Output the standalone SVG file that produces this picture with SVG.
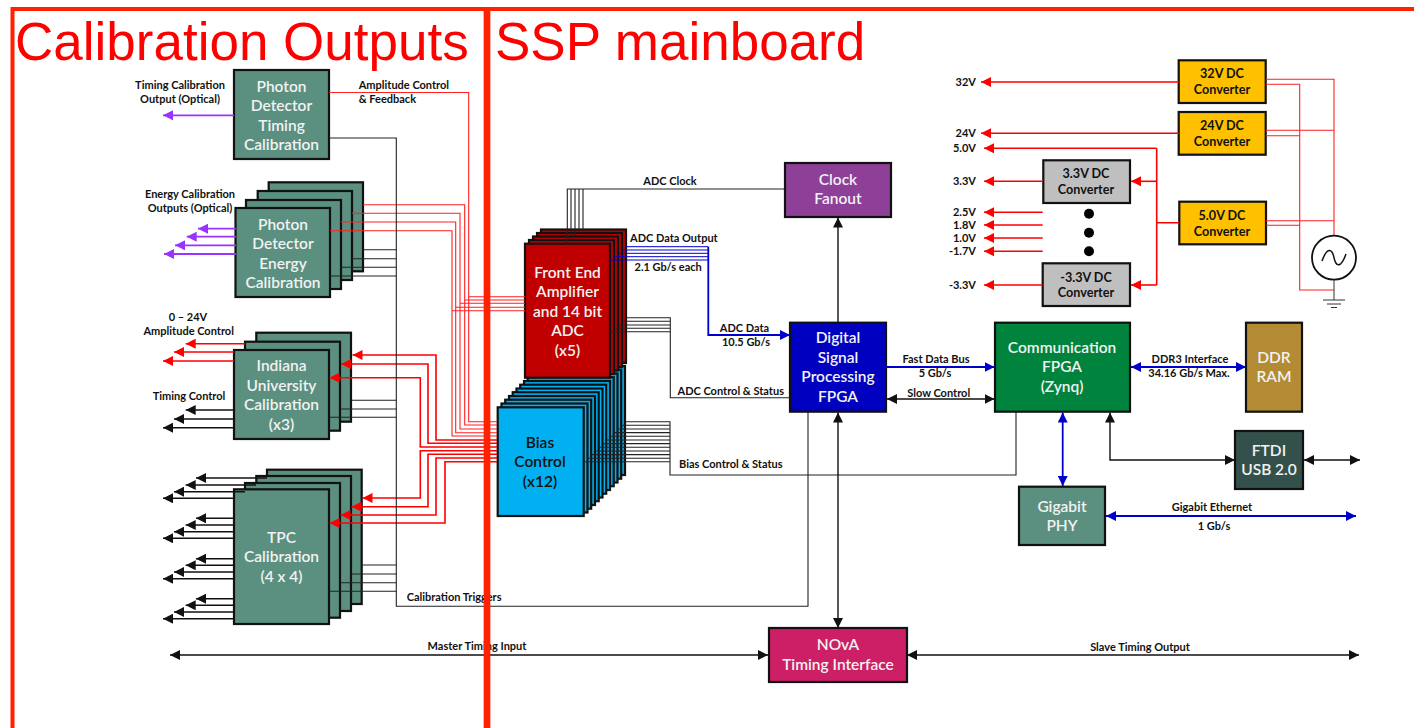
<svg xmlns="http://www.w3.org/2000/svg" width="1414" height="728" viewBox="0 0 1414 728">
<style>
text{font-family:"Lato","Liberation Sans",sans-serif}
.lb{font-size:11px;font-weight:700;fill:#111;text-anchor:middle}
.ll{font-size:11px;font-weight:700;fill:#111}
.v{font-size:11px;font-weight:700;fill:#111;text-anchor:end}
.w{font-size:15.500px;font-weight:600;fill:#f2f2f2;text-anchor:middle}
.k{font-size:15.500px;font-weight:600;fill:#111;text-anchor:middle}
.d{font-size:12.600px;font-weight:700;fill:#111;text-anchor:middle}
.t{font-family:"Liberation Sans",Arial,sans-serif;font-size:53px;fill:#ff0000}
.box{stroke:#111;stroke-width:2.2}
.teal{fill:#5b9080}.dr{fill:#c00000}.bl{fill:#00b0f0}.yl{fill:#ffc000}.gr{fill:#bfbfbf}
path{fill:none}
.r{stroke:#ff2020;stroke-width:1.1}
.ra{stroke:#ff0000;stroke-width:1.6;marker-end:url(#mr)}
.pa{stroke:#9933ff;stroke-width:1.8;marker-end:url(#mp)}
.ka{stroke:#111;stroke-width:1.4;marker-end:url(#mk)}
.kb{stroke:#111;stroke-width:1.4;marker-start:url(#mk);marker-end:url(#mk)}
.ba{stroke:#0000cc;stroke-width:1.8;marker-end:url(#mb)}
.bb{stroke:#0000cc;stroke-width:1.8;marker-start:url(#mb);marker-end:url(#mb)}
.g{stroke:#222;stroke-width:1.1}
.u{stroke:#0000cc;stroke-width:1}
.frame{stroke:#ff2200;fill:none}
</style>
<defs>
<marker id="mr" markerUnits="userSpaceOnUse" markerWidth="11" markerHeight="10" refX="10" refY="5" orient="auto-start-reverse"><polygon points="0,0 10,5 0,10" fill="#ff0000"/></marker>
<marker id="mp" markerUnits="userSpaceOnUse" markerWidth="11" markerHeight="10" refX="10" refY="5" orient="auto-start-reverse"><polygon points="0,0 10,5 0,10" fill="#9933ff"/></marker>
<marker id="mk" markerUnits="userSpaceOnUse" markerWidth="11" markerHeight="10" refX="10" refY="5" orient="auto-start-reverse"><polygon points="0,0 10,5 0,10" fill="#111"/></marker>
<marker id="mb" markerUnits="userSpaceOnUse" markerWidth="11" markerHeight="10" refX="10" refY="5" orient="auto-start-reverse"><polygon points="0,0 10,5 0,10" fill="#0000cc"/></marker>
</defs>
<rect width="1414" height="728" fill="#fff"/>
<g id="pd-timing"><rect class="box teal" x="234" y="70" width="95" height="89"/><text class="w" x="281.5" y="91.7">Photon</text><text class="w" x="281.5" y="111">Detector</text><text class="w" x="281.5" y="130.5">Timing</text><text class="w" x="281.5" y="150">Calibration</text></g>
<g id="pd-energy"><rect class="box teal" x="268.7" y="182.3" width="94.3" height="89"/><rect class="box teal" x="257.7" y="191" width="94.3" height="89"/><rect class="box teal" x="246" y="200" width="95" height="89"/><rect class="box teal" x="235.5" y="208" width="94.5" height="89"/><text class="w" x="283" y="229.5">Photon</text><text class="w" x="283" y="249">Detector</text><text class="w" x="283" y="268.5">Energy</text><text class="w" x="283" y="288">Calibration</text></g>
<g id="indiana"><rect class="box teal" x="256.3" y="332.7" width="94.7" height="89"/><rect class="box teal" x="245" y="341.7" width="95" height="89"/><rect class="box teal" x="234" y="350" width="95" height="89"/><text class="w" x="281.5" y="371">Indiana</text><text class="w" x="281.5" y="390.5">University</text><text class="w" x="281.5" y="410">Calibration</text><text class="w" x="281.5" y="429.5">(x3)</text></g>
<g id="tpc"><rect class="box teal" x="267" y="469.7" width="94.7" height="134.3"/><rect class="box teal" x="256.3" y="476" width="94.7" height="135"/><rect class="box teal" x="245" y="483" width="95" height="134.7"/><rect class="box teal" x="234" y="489.3" width="95" height="134.7"/><text class="w" x="281.5" y="542.7">TPC</text><text class="w" x="281.5" y="562">Calibration</text><text class="w" x="281.5" y="581.7">(4 x 4)</text></g>
<g id="bias">
<rect class="box bl" x="539" y="366" width="86" height="109"/><rect class="box bl" x="535.2" y="369.7" width="86" height="109"/><rect class="box bl" x="531.5" y="373.5" width="86" height="109"/><rect class="box bl" x="527.7" y="377.2" width="86" height="109"/><rect class="box bl" x="524" y="381" width="86" height="109"/><rect class="box bl" x="520.2" y="384.7" width="86" height="109"/><rect class="box bl" x="516.5" y="388.5" width="86" height="109"/><rect class="box bl" x="512.7" y="392.2" width="86" height="109"/><rect class="box bl" x="509" y="396" width="86" height="109"/><rect class="box bl" x="505.2" y="399.7" width="86" height="109"/><rect class="box bl" x="501.5" y="403.5" width="86" height="109"/><rect class="box bl" x="497.7" y="407.3" width="86" height="108.7"/>
<text class="k" x="540" y="447.7">Bias</text><text class="k" x="540" y="467">Control</text><text class="k" x="540" y="486.5">(x12)</text></g>
<g id="adc">
<rect class="box dr" x="541" y="229.5" width="85" height="133.5"/><rect class="box dr" x="537" y="233" width="85" height="134"/><rect class="box dr" x="533" y="236.5" width="85" height="134"/><rect class="box dr" x="529" y="240" width="85" height="134"/><rect class="box dr" x="525" y="243.7" width="85" height="134"/>
<text class="w" x="567.5" y="277.7">Front End</text><text class="w" x="567.5" y="297">Amplifier</text><text class="w" x="567.5" y="316.5">and 14 bit</text><text class="w" x="567.5" y="336">ADC</text><text class="w" x="567.5" y="355.5">(x5)</text></g>
<g id="clock"><rect class="box" fill="#8e3f98" x="785" y="163" width="106" height="54"/><text class="w" x="838" y="185">Clock</text><text class="w" x="838" y="204">Fanout</text></g>
<g id="dsp"><rect class="box" fill="#0000c0" x="790" y="322.7" width="96" height="89"/><text class="w" x="838" y="343">Digital</text><text class="w" x="838" y="362.5">Signal</text><text class="w" x="838" y="382">Processing</text><text class="w" x="838" y="401.5">FPGA</text></g>
<g id="comm"><rect class="box" fill="#00843d" x="995" y="322.7" width="135" height="89"/><text class="w" x="1062" y="352.7">Communication</text><text class="w" x="1062" y="372">FPGA</text><text class="w" x="1062" y="391.5">(Zynq)</text></g>
<g id="ddr"><rect class="box" fill="#b38b35" x="1246" y="322.7" width="56" height="89"/><text class="w" x="1274" y="362.7">DDR</text><text class="w" x="1274" y="381.7">RAM</text></g>
<g id="ftdi"><rect class="box" fill="#33514a" x="1235" y="431" width="68" height="58"/><text class="w" x="1269" y="456">FTDI</text><text class="w" x="1269" y="475">USB 2.0</text></g>
<g id="phy"><rect class="box teal" x="1019" y="486.7" width="86" height="58.3"/><text class="w" x="1062" y="511.7">Gigabit</text><text class="w" x="1062" y="531">PHY</text></g>
<g id="nova"><rect class="box" fill="#cc1f66" x="769" y="628" width="138" height="54"/><text class="w" x="838" y="650">NOvA</text><text class="w" x="838" y="670">Timing Interface</text></g>
<g id="dc32"><rect class="box yl" x="1178.7" y="60.3" width="87" height="42.7"/><text class="d" x="1222" y="78.3">32V DC</text><text class="d" x="1222" y="94">Converter</text></g>
<g id="dc24"><rect class="box yl" x="1178.7" y="112" width="87" height="42.7"/><text class="d" x="1222" y="130">24V DC</text><text class="d" x="1222" y="145.5">Converter</text></g>
<g id="dc50"><rect class="box yl" x="1179.3" y="201.7" width="86.7" height="42.6"/><text class="d" x="1222" y="220">5.0V DC</text><text class="d" x="1222" y="235.5">Converter</text></g>
<g id="dc33"><rect class="box gr" x="1043.3" y="160.3" width="86.7" height="42.7"/><text class="d" x="1086" y="178">3.3V DC</text><text class="d" x="1086" y="194">Converter</text></g>
<g id="dcm33"><rect class="box gr" x="1042.7" y="263.3" width="87.3" height="42.7"/><text class="d" x="1086" y="281.7">-3.3V DC</text><text class="d" x="1086" y="297">Converter</text></g>
<g id="dots"><circle cx="1089" cy="213.7" r="5" fill="#000"/><circle cx="1089" cy="232.7" r="5" fill="#000"/><circle cx="1089" cy="251.3" r="5" fill="#000"/></g>
<g id="connectors">
<path class="r" d="M329 92.5H468.7V421.7H497M363 204.7H464.7V425H497M352 213.3H460V429H497M341 222H455.7V432.7H497M330 230.7H452V436H497"/>
<path class="r" d="M468.7 296.7H525M464.7 300H525M460 303.3H525M455.7 307.3H525M452 310.7H525"/>
<path class="ra" d="M497 440H436V355H352.5"/>
<path class="ra" d="M497 443.3H428V364H341"/>
<path class="ra" d="M497 447H420.3V377.7H329.5"/>
<path class="ra" d="M497 450.7H420.3V498H362.5"/>
<path class="ra" d="M497 454.3H428V506.7H351.5"/>
<path class="ra" d="M497 458H436V515H340.5"/>
<path class="ra" d="M497 461.7H445V523H329.5"/>
<path class="pa" d="M234 115.3H163"/>
<path class="pa" d="M236 228.7H198"/><path class="pa" d="M236 236.7H186.7"/><path class="pa" d="M236 245.3H175"/><path class="pa" d="M236 254H164"/>
<path class="ra" d="M245 343.7H185.7"/><path class="ra" d="M234 352H174"/><path class="ra" d="M234 361H163"/>
<path class="ka" d="M234 410H185.7"/><path class="ka" d="M234 419H174"/><path class="ka" d="M234 427.7H163"/>
<path class="ka" d="M267 478H196"/><path class="ka" d="M256 485H185.7"/><path class="ka" d="M245 491.7H174"/><path class="ka" d="M234 498.3H163"/>
<path class="ka" d="M234 518.3H196"/><path class="ka" d="M234 525H185.7"/><path class="ka" d="M234 531.7H174"/><path class="ka" d="M234 538.3H163"/>
<path class="ka" d="M234 558.7H196"/><path class="ka" d="M234 565.3H185.7"/><path class="ka" d="M234 572H174"/><path class="ka" d="M234 578.7H163"/>
<path class="ka" d="M234 598.7H196"/><path class="ka" d="M234 605.3H185.7"/><path class="ka" d="M234 612H174"/><path class="ka" d="M234 618.7H163"/>
<path class="g" d="M329 138H396.3V606.3H808V412"/>
<path class="g" d="M363 249.7H396.3M352 258.7H396.3M341 267.3H396.3M330 276H396.3M351 400.3H396.3M340 409H396.3M329 417.3H396.3M361 565H396.3M351 574H396.3M340 582.7H396.3M329 591.3H396.3"/>
<path class="kb" d="M170 655H768"/>
<path class="kb" d="M907 655H1359"/>
<path class="g" d="M785 189H567.3V243M571 189V240M575 189V236M579 189V233M583 189V230"/>
<path class="u" d="M626 246.7H708.3M622 250H708.3M618 253.3H708.3M614 256.7H708.3M610 260H708.3"/>
<path class="ba" d="M708.3 246.7V335H790"/>
<path class="g" d="M626 317.7H670.3V397.7H790M622 321.3H670.3M618 325H670.3M614 328.3H670.3M610 331.7H670.3"/>
<path class="g" d="M625 421.7H670V475H1016V412M621 425.3H670M617.5 429H670M614 432.6H670M610 436.3H670M606.5 440H670M602.5 443.6H670M599 447.3H670M595 451H670M591 454.6H670M587.5 458.2H670M584 461.7H670"/>
<path class="ka" d="M838 322V217.5"/>
<path class="kb" d="M838 628V412.5"/>
<path class="ba" d="M886 367H994.5"/>
<path class="kb" d="M887 399H994.5"/>
<path class="bb" d="M1131 367H1246"/>
<path class="ka" d="M1235 460H1110V412.5" style="marker-start:url(#mk)"/>
<path class="kb" d="M1304 460H1360"/>
<path class="bb" d="M1062.7 412.5V486"/>
<path class="bb" d="M1106 516H1356"/>
<path class="ra" d="M1179 82H981"/><path class="ra" d="M1179 133.3H981"/>
<path class="ra" d="M1156.7 148.3H984"/>
<path class="ra" style="marker-end:none" d="M1156.7 148.3V285M1179 222.7H1156.7"/>
<path class="ra" d="M1156.7 181.3H1131"/><path class="ra" d="M1156.7 285H1131"/>
<path class="ra" d="M1043 181.3H984"/><path class="ra" d="M1042.7 212.3H984"/><path class="ra" d="M1042.7 225H984"/><path class="ra" d="M1042.7 238H984"/><path class="ra" d="M1042.7 251.3H984"/><path class="ra" d="M1042.7 285H984"/>
<path class="r" d="M1266 79.3H1334V236M1266 84.3H1299.7V290H1334M1266 130.3H1334M1266 135.7H1299.7M1266 220.7H1334M1266 225.3H1299.7"/>
</g>
<g id="ac"><circle cx="1334" cy="257.7" r="22" fill="#fff" stroke="#111" stroke-width="1.8"/><path d="M1322 261C1327 247 1332 248 1334 257.7S1341 268 1346 254" stroke="#111" stroke-width="1.5"/><path d="M1334 280V300M1323 300H1345M1327 304H1341M1331 307.5H1337" stroke="#333" stroke-width="1"/></g>
<g id="labels">
<text class="lb" x="180" y="89">Timing Calibration</text><text class="lb" x="180" y="103">Output (Optical)</text>
<text class="ll" x="358.7" y="89">Amplitude Control</text><text class="ll" x="358.7" y="103">&amp; Feedback</text>
<text class="lb" x="190" y="198">Energy Calibration</text><text class="lb" x="190" y="212">Outputs (Optical)</text>
<text class="lb" x="188" y="321">0 – 24V</text><text class="lb" x="188.7" y="335">Amplitude Control</text>
<text class="lb" x="189" y="400">Timing Control</text>
<text class="ll" x="406.7" y="601">Calibration Triggers</text>
<text class="lb" x="477" y="650">Master Timing Input</text>
<text class="lb" x="1140" y="651">Slave Timing Output</text>
<text class="lb" x="670" y="185">ADC Clock</text>
<text class="ll" x="630" y="242">ADC Data Output</text>
<text class="ll" x="634.5" y="271">2.1 Gb/s each</text>
<text class="lb" x="744.5" y="332">ADC Data</text><text class="lb" x="746" y="346">10.5 Gb/s</text>
<text class="ll" x="677.5" y="395">ADC Control &amp; Status</text>
<text class="ll" x="679" y="468">Bias Control &amp; Status</text>
<text class="lb" x="936" y="363">Fast Data Bus</text><text class="lb" x="935" y="377">5 Gb/s</text>
<text class="lb" x="938.7" y="397">Slow Control</text>
<text class="lb" x="1190" y="363">DDR3 Interface</text><text class="lb" x="1189" y="377">34.16 Gb/s Max.</text>
<text class="lb" x="1212" y="511">Gigabit Ethernet</text><text class="lb" x="1214" y="530">1 Gb/s</text>
<text class="v" x="976" y="86">32V</text><text class="v" x="976" y="137">24V</text><text class="v" x="976" y="152">5.0V</text><text class="v" x="976" y="185">3.3V</text><text class="v" x="976" y="216">2.5V</text><text class="v" x="976" y="229">1.8V</text><text class="v" x="976" y="242">1.0V</text><text class="v" x="976" y="255">-1.7V</text><text class="v" x="976" y="289">-3.3V</text>
</g>
<g id="frame">
<path class="frame" stroke-width="4" d="M1414 9H12.500V728"/>
<path class="frame" stroke-width="6.700" d="M487 9V728"/>
<text class="t" x="15" y="60">Calibration Outputs</text>
<text class="t" x="495" y="60">SSP mainboard</text>
</g>
</svg>
